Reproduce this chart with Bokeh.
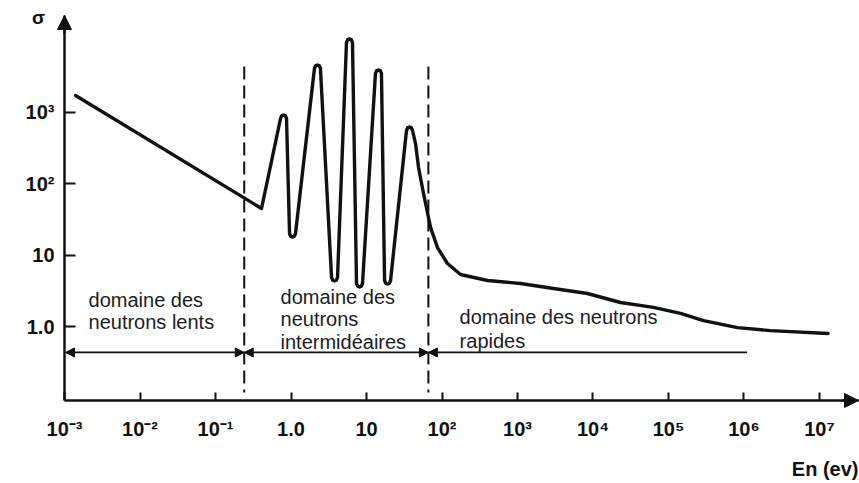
from bokeh.plotting import figure
from bokeh.models import FixedTicker, Arrow, NormalHead, Label
from bokeh.embed import file_html
from bokeh.resources import INLINE

# Neutron energy (eV) and cross-section sigma along the sketched curve
# (each resonance peak / trough is traced with a few points around its tip)
energy = [1.4e-3, 0.407,
          0.727, 0.754, 0.796, 0.841, 0.872,
          0.956, 0.991, 1.047, 1.106, 1.147,
          2.044, 2.121, 2.24, 2.366, 2.454,
          3.441, 3.569, 3.77, 3.982, 4.131,
          5.430, 5.633, 5.95, 6.285, 6.519,
          7.374, 7.649, 8.08, 8.535, 8.853,
          13.14, 13.63, 14.4, 15.21, 15.78,
          17.34, 17.99, 19.0, 20.07, 20.82,
          33.86, 35.12, 37.1, 39.19, 40.65,
          44.6, 48.9, 56.9, 70.5, 87.1, 118,
          176, 401, 1096, 3000, 8450, 23100, 63200, 144000, 291000,
          820000, 2.24e6, 1.3e7]
sigma = [1730, 45.4,
         825, 902, 923, 902, 825,
         20.3, 18.5, 18.1, 18.5, 20.3,
         4124, 4514, 4617, 4514, 4124,
         4.93, 4.50, 4.40, 4.50, 4.93,
         9531, 10432, 10670, 10432, 9531,
         4.06, 3.71, 3.63, 3.71, 4.06,
         3511, 3842, 3930, 3842, 3511,
         4.47, 4.08, 3.99, 4.08, 4.47,
         560, 613, 627, 613, 560,
         368, 170, 73.6, 24.7, 12.9, 7.73,
         5.42, 4.47, 4.06, 3.45, 2.94, 2.20, 1.88, 1.55, 1.23,
         0.98, 0.89, 0.81]

# Domain boundaries (eV) and extent of the domain arrows
boundaries = [0.24, 66]
boundary_top = 4400
boundary_bottom = 0.121
domain_start = 1.03e-3
domain_end = 1.1e6
domain_level = 0.44

x_ticks = [1e-3, 1e-2, 1e-1, 1, 10, 1e2, 1e3, 1e4, 1e5, 1e6, 1e7]
x_tick_labels = ["10⁻³", "10⁻²", "10⁻¹", "1.0", "10", "10²", "10³", "10⁴",
                 "10⁵", "10⁶", "10⁷"]
y_ticks = [1, 10, 100, 1000]
y_tick_labels = ["1.0", "10", "10²", "10³"]

domain_texts = [
    (["domaine des", "neutrons lents"], 0.00208, [2.35, 1.156]),
    (["domaine des", "neutrons", "intermidéaires"], 0.726, [2.59, 1.31, 0.607]),
    (["domaine des neutrons", "rapides"], 171, [1.36, 0.647]),
]

# Visible ranges and where the two axes sit / end
X_LO, X_HI = 10 ** -3.848, 10 ** 7.530
Y_LO, Y_HI = 10 ** -2.189, 10 ** 4.566
X_AXIS_AT = 10 ** -1.028
Y_AXIS_AT = 1e-3
X_AXIS_END = 10 ** 7.517
Y_AXIS_END = 10 ** 4.357

INK = "#111111"
TEXT = "#1c1c28"
FONT = "Liberation Sans"

p = figure(width=859, height=483, x_axis_type="log", y_axis_type="log",
           x_range=(X_LO, X_HI), y_range=(Y_LO, Y_HI),
           output_backend="svg", toolbar_location=None, min_border=0)
p.grid.visible = False
p.outline_line_color = None
p.background_fill_color = "white"
p.border_fill_color = "white"

for ax in (p.xaxis[0], p.yaxis[0]):
    ax.axis_line_width = 2.5
    ax.axis_line_color = INK
    ax.major_tick_line_width = 2
    ax.major_tick_line_color = INK
    ax.major_tick_out = 0
    ax.minor_tick_line_color = None
    ax.major_label_text_font = FONT
    ax.major_label_text_font_style = "bold"
    ax.major_label_text_font_size = "20px"
    ax.major_label_text_color = INK

p.xaxis.fixed_location = X_AXIS_AT
p.xaxis.bounds = (Y_AXIS_AT, X_AXIS_END)
p.xaxis.ticker = FixedTicker(ticks=x_ticks)
p.xaxis.major_label_overrides = dict(zip(x_ticks, x_tick_labels))
p.xaxis.major_tick_in = 8
p.xaxis.major_label_standoff = 18

p.yaxis.fixed_location = Y_AXIS_AT
p.yaxis.bounds = (X_AXIS_AT, Y_AXIS_END)
p.yaxis.ticker = FixedTicker(ticks=y_ticks)
p.yaxis.major_label_overrides = dict(zip(y_ticks, y_tick_labels))
p.yaxis.major_tick_in = 11
p.yaxis.major_label_standoff = 10

# Axis arrowheads
p.add_layout(Arrow(x_start=Y_AXIS_AT, y_start=10 ** 4.1, x_end=Y_AXIS_AT, y_end=Y_AXIS_END,
                   line_color=INK, line_width=2.5,
                   end=NormalHead(size=14, fill_color=INK, line_color=INK)))
p.add_layout(Arrow(x_start=10 ** 7.3, y_start=X_AXIS_AT, x_end=X_AXIS_END, y_end=X_AXIS_AT,
                   line_color=INK, line_width=2.5,
                   end=NormalHead(size=14, fill_color=INK, line_color=INK)))

# Cross-section curve
p.line(energy, sigma, line_width=3.4, line_color=INK, line_join="round",
       line_cap="round")

# Domain boundaries
for b in boundaries:
    p.line([b, b], [boundary_top, boundary_bottom], line_color=INK, line_width=2,
           line_dash="13 6")


def head():
    return NormalHead(size=9, fill_color=INK, line_color=INK, line_width=1)


# Domain arrows
spans = [(domain_start, boundaries[0], True, True),
         (boundaries[0], boundaries[1], True, True),
         (boundaries[1], domain_end, True, False)]
for x0, x1, has_start, has_end in spans:
    p.add_layout(Arrow(x_start=x0, y_start=domain_level, x_end=x1, y_end=domain_level,
                       line_color=INK, line_width=1.8,
                       start=head() if has_start else None,
                       end=head() if has_end else None))

for lines, x, ys in domain_texts:
    for txt, y in zip(lines, ys):
        p.add_layout(Label(x=x, y=y, text=txt, text_font=FONT,
                           text_font_size="20px", text_color=TEXT,
                           text_baseline="middle", text_align="left"))

# Axis titles
p.add_layout(Label(x=10 ** -3.344, y=10 ** 4.329, text="σ", text_font=FONT,
                   text_font_style="bold", text_font_size="19px", text_color=INK,
                   text_align="center", text_baseline="middle"))
p.add_layout(Label(x=X_AXIS_END, y=10 ** -1.993, text="En (ev)", text_font=FONT,
                   text_font_style="bold", text_font_size="20px", text_color=INK,
                   text_align="right", text_baseline="middle"))

open("out.html", "w").write(file_html(p, INLINE))
